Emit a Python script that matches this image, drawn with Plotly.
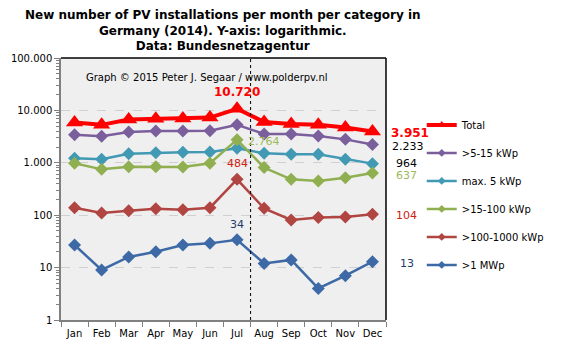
import math
import plotly.graph_objects as go

months = ["Jan", "Feb", "Mar", "Apr", "May", "Jun", "Jul", "Aug", "Sep", "Oct", "Nov", "Dec"]
total = [5900, 5300, 6700, 6900, 7000, 7300, 10720, 6000, 5500, 5300, 4700, 3951]
kwp5_15 = [3440, 3200, 3870, 4040, 4040, 4100, 5330, 3540, 3540, 3240, 2800, 2233]
max5 = [1220, 1170, 1490, 1560, 1590, 1610, 1890, 1520, 1450, 1450, 1170, 964]
kwp15_100 = [980, 750, 840, 840, 830, 980, 2764, 810, 484, 450, 520, 637]
kwp100_1000 = [139, 110, 122, 133, 127, 139, 484, 135, 81, 90, 92, 104]
mwp1 = [27, 9, 16, 20, 27, 29, 34, 12, 14, 4, 7, 13]

series = [
    ("Total", total, "#FF0000", "triangle-up", 4, 15),
    (">5-15 kWp", kwp5_15, "#7B5E9C", "diamond", 2.5, 10),
    ("max. 5 kWp", max5, "#4299B3", "diamond", 2.5, 10),
    (">15-100 kWp", kwp15_100, "#8FAF50", "diamond", 2.5, 10),
    (">100-1000 kWp", kwp100_1000, "#B04541", "diamond", 2.5, 10),
    (">1 MWp", mwp1, "#3D6AA6", "diamond", 2.5, 10),
]

fig = go.Figure()
for i, (name, vals, col, sym, lw, ms) in enumerate(series):
    fig.add_trace(go.Scatter(
        x=months, y=vals, name=name, mode="lines+markers",
        line=dict(color=col, width=lw),
        marker=dict(symbol=sym, size=ms, color=col),
        showlegend=False,
    ))
# legend entries with small markers, as in the reference
for i, (name, vals, col, sym, lw, ms) in enumerate(series):
    fig.add_trace(go.Scatter(
        x=[None], y=[None], name=name, mode="lines+markers",
        line=dict(color=col, width=lw),
        marker=dict(symbol=sym, size=8 if i == 0 else 6, color=col),
        legendgroup=f"g{i}", showlegend=True,
    ))

font = "DejaVu Sans, Verdana, sans-serif"
fig.update_layout(
    width=561, height=350,
    margin=dict(l=61, r=165, t=58, b=30),
    paper_bgcolor="white", plot_bgcolor="#EFEFEF",
    font=dict(family=font, size=10, color="black"),
    legend=dict(
        x=1.11, xanchor="left", y=0.80, yanchor="top",
        font=dict(family=font, size=10, color="black"),
        tracegroupgap=9, bgcolor="rgba(0,0,0,0)", itemwidth=30,
    ),
    showlegend=True,
)

fig.add_annotation(
    x=0.4985, y=(320 - 6) / 262, xref="paper", yref="paper", xanchor="center", yanchor="top",
    text="<b>New number of PV installations per month per category in<br>Germany (2014). Y-axis: logarithmic.<br>Data: Bundesnetzagentur</b>",
    showarrow=False, font=dict(family=font, size=12, color="black"),
)

fig.update_xaxes(
    type="category", showline=True, linecolor="#808080", linewidth=1.5,
    ticks="outside", tickson="boundaries", ticklen=5, tickcolor="#808080",
    showgrid=False, mirror=False, tickfont=dict(size=10), tickangle=0,
    ticklabelstandoff=3, range=[-0.5, 11.5],
)
fig.update_yaxes(
    type="log", range=[0, 5], showline=True, linecolor="#808080", linewidth=1.5,
    tickvals=[1, 10, 100, 1000, 10000, 100000],
    ticktext=["1", "10", "100", "1.000", "10.000", "100.000"],
    ticks="outside", ticklen=5, tickcolor="#808080",
    minor=dict(dtick="D1", ticks="outside", ticklen=3, tickcolor="#808080", showgrid=False),
    showgrid=True, gridcolor="#D0D0D0", griddash="dash", gridwidth=1,
    tickfont=dict(size=10),
)

# top and right black border
fig.add_shape(type="line", xref="paper", yref="paper", x0=0, x1=1, y0=1, y1=1,
              line=dict(color="black", width=1.5))
fig.add_shape(type="line", xref="paper", yref="paper", x0=1, x1=1, y0=0, y1=1,
              line=dict(color="black", width=1.5))
# dashed separator between Jul and Aug
fig.add_shape(type="line", xref="x", yref="paper", x0=6.5, x1=6.5, y0=0, y1=1,
              line=dict(color="black", width=1, dash="3px,3px"))


def yv(v):
    return math.log10(v)


def ann(x, y, text, color, bold=False, xref="x", size=11, xanchor="center", xshift=0):
    t = f"<b>{text}</b>" if bold else text
    fig.add_annotation(x=x, y=y, xref=xref, yref="y", text=t, showarrow=False,
                       font=dict(family=font, size=size, color=color),
                       xanchor=xanchor, xshift=xshift)


fig.add_annotation(x=0.448, y=0.955, xref="paper", yref="paper",
                   text="Graph © 2015 Peter J. Segaar / www.polderpv.nl",
                   showarrow=False, font=dict(family=font, size=10, color="black"))

ann(6, yv(total[6]) + 0.32, "10.720", "#FF0000", bold=True, size=12)
ann(7.0, yv(kwp15_100[6]) - 0.03, "2.764", "#9BBB59")
ann(6, yv(kwp100_1000[6]) + 0.3, "484", "#D02010")
ann(6, yv(mwp1[6]) + 0.3, "34", "#1F3A6A")

ann(1, yv(total[11]) - 0.03, "3.951", "#FF0000", bold=True, xref="paper", size=12, xanchor="left", xshift=3)
ann(1, yv(kwp5_15[11]) - 0.03, "2.233", "black", xref="paper", xanchor="left", xshift=4)
ann(1, yv(max5[11]), "964", "black", xref="paper", xanchor="left", xshift=8)
ann(1, yv(kwp15_100[11]) - 0.04, "637", "#9BBB59", xref="paper", xanchor="left", xshift=8)
ann(1, yv(kwp100_1000[11]) - 0.03, "104", "#D02010", xref="paper", xanchor="left", xshift=8)
ann(1, yv(mwp1[11]) - 0.03, "13", "#1F3A6A", xref="paper", xanchor="left", xshift=12)

fig.write_html("out.html")
